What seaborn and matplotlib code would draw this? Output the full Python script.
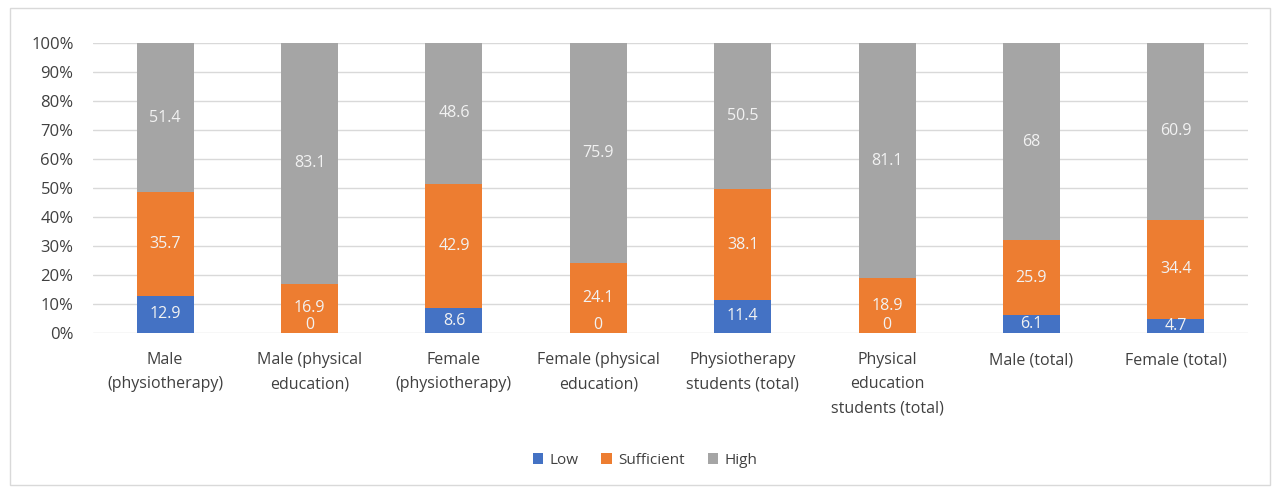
import numpy as np
import pandas as pd
import matplotlib
matplotlib.use("Agg")
import matplotlib.pyplot as plt
import seaborn as sns
from matplotlib.patches import Rectangle, Patch

categories = [
    "Male\n(physiotherapy)",
    "Male (physical\neducation)",
    "Female\n(physiotherapy)",
    "Female (physical\neducation)",
    "Physiotherapy\nstudents (total)",
    "Physical\neducation\nstudents (total)",
    "Male (total)",
    "Female (total)",
]
low = [12.9, 0, 8.6, 0, 11.4, 0, 6.1, 4.7]
sufficient = [35.7, 16.9, 42.9, 24.1, 38.1, 18.9, 25.9, 34.4]
high = [51.4, 83.1, 48.6, 75.9, 50.5, 81.1, 68, 60.9]
series_names = ["Low", "Sufficient", "High"]
colors = {"Low": "#4472C4", "Sufficient": "#ED7D31", "High": "#A5A5A5"}

sns.set_theme(style="white")
plt.rcParams["font.family"] = ["Open Sans", "DejaVu Sans"]

df = pd.DataFrame({"category": categories, "Low": low, "Sufficient": sufficient, "High": high})
total = df[series_names].sum(axis=1)
pct = df[series_names].div(total, axis=0) * 100
cum = pct.cumsum(axis=1)

fig = plt.figure(figsize=(12.81, 4.93), dpi=100)
fig.patches.append(Rectangle((10 / 1281, 8 / 493), 1260 / 1281, 477 / 493,
                             transform=fig.transFigure, fill=False,
                             edgecolor="#d9d9d9", linewidth=1.0))
ax = fig.add_axes([93 / 1281, 1 - 333 / 493, (1248 - 93) / 1281, (333 - 43) / 493])

# stacked 100% bars: draw cumulative totals from top layer down
for name in reversed(series_names):
    plot_df = pd.DataFrame({"category": categories, "value": cum[name].values})
    sns.barplot(data=plot_df, x="category", y="value", color=colors[name],
                width=0.395, saturation=1, linewidth=0, edgecolor="none",
                ax=ax, zorder=3)

# value labels at the centre of each segment
for i in range(len(categories)):
    bottom = 0.0
    for name in series_names:
        h = pct[name].iloc[i]
        raw = df[name].iloc[i]
        label = f"{raw:g}"
        y = bottom + h / 2
        offset = 6 if h == 0 else 0
        ax.annotate(label, (i, y), xytext=(0, offset), textcoords="offset points",
                    ha="center", va="center", fontsize=11.5, color="#f2f2f2", zorder=5)
        bottom += h

ax.set_ylim(0, 100)
ax.set_xlim(-0.5, len(categories) - 0.5)
ax.set_yticks(np.arange(0, 101, 10))
ax.set_yticklabels([f"{v}%" for v in range(0, 101, 10)])
ax.yaxis.grid(True, color="#d9d9d9", linewidth=1.0, zorder=0)
ax.set_axisbelow(True)
for s in ax.spines.values():
    s.set_visible(False)
ax.tick_params(axis="y", length=0, pad=14, labelsize=12, labelcolor="#404040")
ax.tick_params(axis="x", length=0, pad=14, labelsize=11.5, labelcolor="#404040")
for t in ax.get_xticklabels():
    t.set_linespacing(1.65)
ax.set_xlabel("")
ax.set_ylabel("")

handles = [Patch(facecolor=colors[n], edgecolor="none", label=n) for n in series_names]
fig.legend(handles=handles, loc="center", bbox_to_anchor=(645 / 1281, 1 - 460 / 493),
           ncol=3, frameon=False, fontsize=11, handlelength=0.7, handleheight=0.7,
           handletextpad=0.4, columnspacing=1.5, labelcolor="#404040")

fig.savefig("out.png", dpi=100, facecolor="white")
